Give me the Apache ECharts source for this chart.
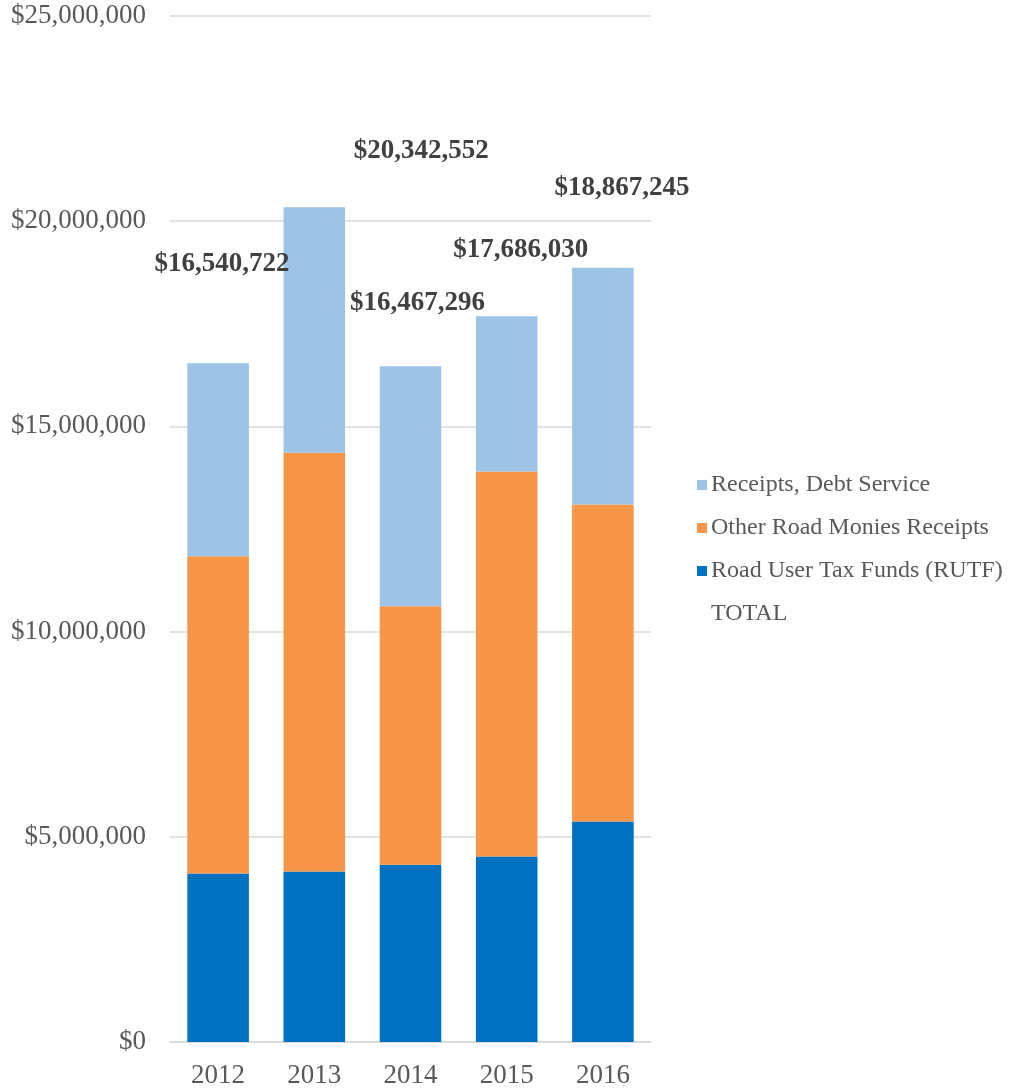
<!DOCTYPE html>
<html>
<head>
<meta charset="utf-8">
<script src="https://cdn.jsdelivr.net/npm/echarts@6/dist/echarts.min.js"></script>
<style>html,body{margin:0;padding:0;background:#fff;}#chart{width:1012px;height:1089px;}</style>
</head>
<body>
<div id="chart"></div>
<script>
var categories = ['2012', '2013', '2014', '2015', '2016'];
var rutf = [4106000, 4155000, 4320000, 4520000, 5370000];
var otherRoad = [7730000, 10200000, 6300000, 9380000, 7730000];
var debtService = [4704722, 5987552, 5847296, 3786030, 5767245];
var totals = [16540722, 20342552, 16467296, 17686030, 18867245];
var yTicks = [0, 5000000, 10000000, 15000000, 20000000, 25000000];

// label placement of total labels (pixel offsets, style only)
var totalLabelOffsets = [[4, -99], [107, -56], [7, -63], [14, -66], [19, -80]];

function money(v) {
  return '$' + Math.round(v).toString().replace(/\B(?=(\d{3})+(?!\d))/g, ',');
}

var font = 'Liberation Serif';
var chart = echarts.init(document.getElementById('chart'));
chart.setOption({
  animation: false,
  backgroundColor: '#fff',
  grid: { left: 170, right: 361, top: 16, bottom: 45, containLabel: false },
  legend: {
    orient: 'vertical',
    left: 697,
    top: 473,
    padding: 0,
    itemWidth: 10,
    itemHeight: 10,
    itemGap: 19,
    textStyle: { fontFamily: font, fontSize: 24, color: '#595959', lineHeight: 24, padding: [0, 0, 0, -1] },
    data: [
      { name: 'Receipts, Debt Service', icon: 'rect' },
      { name: 'Other Road Monies Receipts', icon: 'rect' },
      { name: 'Road User Tax Funds (RUTF)', icon: 'rect' },
      { name: 'TOTAL', icon: 'rect', itemStyle: { color: 'rgba(0,0,0,0)', opacity: 0 } }
    ]
  },
  xAxis: {
    type: 'category',
    data: categories,
    axisLine: { lineStyle: { color: '#d9d9d9', width: 1.5 } },
    axisTick: { show: false },
    axisLabel: { fontFamily: font, fontSize: 27, color: '#595959', margin: 20 }
  },
  yAxis: {
    type: 'value',
    min: yTicks[0],
    max: yTicks[yTicks.length - 1],
    interval: yTicks[1] - yTicks[0],
    axisLine: { show: false },
    axisTick: { show: false },
    splitLine: { lineStyle: { color: '#d9d9d9', width: 1.5 } },
    axisLabel: { fontFamily: font, fontSize: 27, color: '#595959', margin: 24, formatter: money }
  },
  series: [
    {
      name: 'Road User Tax Funds (RUTF)', type: 'bar', stack: 'a', data: rutf,
      barWidth: '64%', itemStyle: { color: '#0070C0' }
    },
    {
      name: 'Other Road Monies Receipts', type: 'bar', stack: 'a', data: otherRoad,
      itemStyle: { color: '#F79646' }
    },
    {
      name: 'Receipts, Debt Service', type: 'bar', stack: 'a', data: debtService,
      itemStyle: { color: '#9DC3E6' }
    },
    {
      name: 'TOTAL', type: 'line',
      data: totals.map(function (v, i) {
        return { value: v, label: { offset: totalLabelOffsets[i] } };
      }),
      symbol: 'circle', symbolSize: 1, showSymbol: true,
      lineStyle: { opacity: 0 },
      itemStyle: { color: 'rgba(0,0,0,0)' },
      label: {
        show: true, position: 'inside',
        fontFamily: font, fontSize: 27, fontWeight: 'bold', color: '#404040',
        formatter: function (p) { return money(p.value); }
      },
      z: 10
    }
  ]
});
</script>
</body>
</html>
